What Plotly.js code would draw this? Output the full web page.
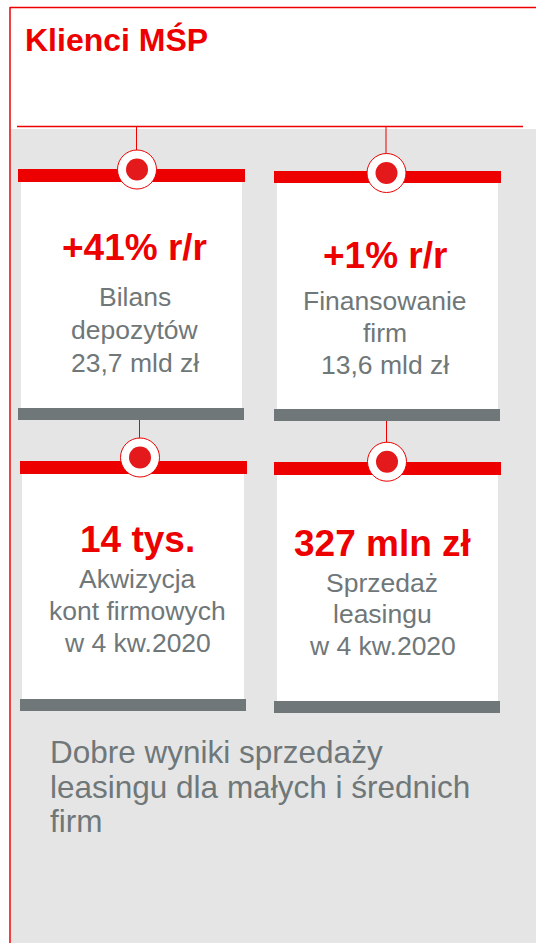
<!DOCTYPE html>
<html>
<head>
<meta charset="utf-8">
<script src="https://cdn.plot.ly/plotly-3.0.1.min.js"></script>
<style>
html,body{margin:0;padding:0;background:#fff;}
#chart{width:536px;height:943px;}
</style>
</head>
<body>
<div id="chart"></div>
<script>
// ---- content ----
const titleText = 'Klienci MŚP';
const kpiValues = ['+41% r/r', '+1% r/r', '14 tys.', '327 mln zł'];
const kpiLine1 = ['Bilans', 'Finansowanie', 'Akwizycja', 'Sprzedaż'];
const kpiLine2 = ['depozytów', 'firm', 'kont firmowych', 'leasingu'];
const kpiLine3 = ['23,7 mld zł', '13,6 mld zł', 'w 4 kw.2020', 'w 4 kw.2020'];
const summaryLines = ['Dobre wyniki sprzedaży', 'leasingu dla małych i średnich', 'firm'];

// ---- layout geometry (pixels) ----
const W = 536, H = 943;
const cards = [
  {bx0:18,  bx1:245, rY0:169, rY1:182, wx0:21,  wx1:242, wY1:408, gY1:420, cx:137, cy:169.5, lY0:127, tx:134.5, ty:[247.5,297,330,363]},
  {bx0:274, bx1:501, rY0:171, rY1:183, wx0:277, wx1:498, wY1:409, gY1:421, cx:386.5, cy:173, lY0:127, tx:385, ty:[255,300.5,332.5,364.5]},
  {bx0:20,  bx1:247, rY0:461, rY1:474, wx0:22,  wx1:244, wY1:699, gY1:711, cx:140, cy:457.5, lY0:420, tx:137, ty:[539,579,611,643]},
  {bx0:274, bx1:501, rY0:462, rY1:475, wx0:277, wx1:498, wY1:701, gY1:713, cx:387, cy:461.7, lY0:421, tx:382, ty:[543.7,583,614,646]}
];
const RED = '#ec0000', DOT = '#e3191b', GREYTXT = '#6f7779', GREYBAR = '#6f7779', BG = '#e5e5e5';
const FONT = '"Liberation Sans", Arial, Helvetica, sans-serif';

const shapes = [];
// grey panel
shapes.push({type:'rect', xref:'x', yref:'y', x0:11, x1:W, y0:129, y1:H, fillcolor:BG, line:{width:0}, layer:'below'});
// outer frame lines
shapes.push({type:'line', xref:'x', yref:'y', x0:10, x1:W, y0:7.5, y1:7.5, line:{color:RED, width:1.5}});
shapes.push({type:'line', xref:'x', yref:'y', x0:10, x1:10, y0:7, y1:H, line:{color:RED, width:1.5}});
// thin rule under title
shapes.push({type:'line', xref:'x', yref:'y', x0:17, x1:523, y0:126.5, y1:126.5, line:{color:RED, width:1.5}});

cards.forEach(c => {
  shapes.push({type:'rect', xref:'x', yref:'y', x0:c.wx0, x1:c.wx1, y0:c.rY1, y1:c.wY1, fillcolor:'#ffffff', line:{width:0}});
  shapes.push({type:'rect', xref:'x', yref:'y', x0:c.bx0, x1:c.bx1, y0:c.rY0, y1:c.rY1, fillcolor:RED, line:{width:0}});
  shapes.push({type:'rect', xref:'x', yref:'y', x0:c.bx0, x1:c.bx1 - 1, y0:c.wY1, y1:c.gY1, fillcolor:GREYBAR, line:{width:0}});
  shapes.push({type:'line', xref:'x', yref:'y', x0:c.cx - 0.5, x1:c.cx - 0.5, y0:c.lY0, y1:c.cy - 19, line:{color:RED, width:1}});
  shapes.push({type:'circle', xref:'x', yref:'y', x0:c.cx - 19.5, x1:c.cx + 19.5, y0:c.cy - 19.5, y1:c.cy + 19.5, fillcolor:'#ffffff', line:{color:RED, width:1}});
  shapes.push({type:'circle', xref:'x', yref:'y', x0:c.cx - 11, x1:c.cx + 11, y0:c.cy - 11, y1:c.cy + 11, fillcolor:DOT, line:{width:0}});
});

const annotations = [];
annotations.push({xref:'x', yref:'y', x:23, y:39.5, xanchor:'left', yanchor:'middle', text:'<b>' + titleText + '</b>', showarrow:false,
  font:{family:FONT, size:32, color:RED}});

cards.forEach((c, i) => {
  annotations.push({xref:'x', yref:'y', x:c.tx, y:c.ty[0], xanchor:'center', yanchor:'middle', text:'<b>' + kpiValues[i] + '</b>', showarrow:false,
    font:{family:FONT, size:37, color:RED}});
  [kpiLine1[i], kpiLine2[i], kpiLine3[i]].forEach((t, k) => {
    annotations.push({xref:'x', yref:'y', x:c.tx, y:c.ty[k+1], xanchor:'center', yanchor:'middle', text:t, showarrow:false,
      font:{family:FONT, size:26.5, color:GREYTXT}});
  });
});

const sumY = [752, 787, 821];
summaryLines.forEach((t, k) => {
  annotations.push({xref:'x', yref:'y', x:48, y:sumY[k], xanchor:'left', yanchor:'middle', text:t, showarrow:false,
    font:{family:FONT, size:31.5, color:GREYTXT}});
});

const data = [{x:[], y:[], type:'scatter', mode:'markers', hoverinfo:'skip', showlegend:false}];

const layout = {
  width: W, height: H,
  margin: {l:0, r:0, t:0, b:0, pad:0},
  paper_bgcolor: '#ffffff', plot_bgcolor: '#ffffff',
  xaxis: {range:[0, W], visible:false, fixedrange:true},
  yaxis: {range:[H, 0], visible:false, fixedrange:true},
  showlegend: false,
  shapes: shapes,
  annotations: annotations
};

Plotly.newPlot('chart', data, layout, {staticPlot:true, displayModeBar:false});
</script>
</body>
</html>
